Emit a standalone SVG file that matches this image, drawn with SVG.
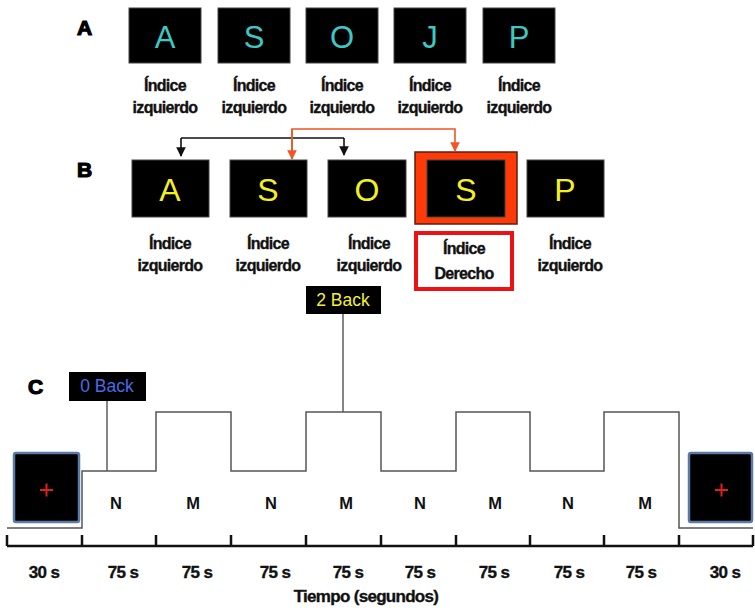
<svg xmlns="http://www.w3.org/2000/svg" width="755" height="608" viewBox="0 0 755 608">
<defs>
<style>
.panel{font-family:"Liberation Sans",Arial,sans-serif;font-weight:900;font-size:21px;fill:#000;stroke:#000;stroke-width:1.2}
.lbl{font-family:"Liberation Sans Narrow","Liberation Sans",Arial,sans-serif;font-weight:bold;font-size:16px;fill:#111;stroke:#111;stroke-width:0.35;text-anchor:middle;letter-spacing:-0.7px}
.scr{fill:#000;stroke:#444;stroke-width:1}
.la{font-family:"Liberation Sans",Arial,sans-serif;font-size:31px;fill:#3cc8c4;text-anchor:middle}
.lb{font-family:"Liberation Sans",Arial,sans-serif;font-size:32px;fill:#f4f020;text-anchor:middle}
.nm{font-family:"Liberation Sans",Arial,sans-serif;font-weight:bold;font-size:16.5px;fill:#111;text-anchor:middle}
.tm{font-family:"Liberation Sans Narrow","Liberation Sans",Arial,sans-serif;font-weight:bold;font-size:17px;fill:#111;stroke:#111;stroke-width:0.35;text-anchor:middle;letter-spacing:-0.7px}
.fix{fill:#000;stroke:#5a7aa8;stroke-width:2.5}
.plus{stroke:#e02020;stroke-width:2}
.tag{font-family:"Liberation Sans",Arial,sans-serif;font-size:17.5px}
</style>
<marker id="ak" viewBox="0 0 10 10" refX="9" refY="5" markerWidth="6" markerHeight="6" orient="auto"><path d="M0,0L10,5L0,10z" fill="#111"/></marker>
<marker id="ao" viewBox="0 0 10 10" refX="9" refY="5" markerWidth="6" markerHeight="6" orient="auto"><path d="M0,0L10,5L0,10z" fill="#f05522"/></marker>
</defs>
<rect width="755" height="608" fill="#fff"/>

<text class="panel" x="77" y="35">A</text>
<text class="panel" x="77" y="177">B</text>
<text class="panel" x="28" y="394">C</text>

<g id="rowA">
<g id="a1"><rect class="scr" x="129" y="8" width="72" height="55"/><text class="la" x="165" y="48">A</text><text class="lbl" x="165" y="91">Índice</text><text class="lbl" x="165" y="113">izquierdo</text></g>
<g id="a2"><rect class="scr" x="218" y="8" width="72" height="55"/><text class="la" x="254" y="48">S</text><text class="lbl" x="254" y="91">Índice</text><text class="lbl" x="254" y="113">izquierdo</text></g>
<g id="a3"><rect class="scr" x="306" y="8" width="72" height="55"/><text class="la" x="342" y="48">O</text><text class="lbl" x="342" y="91">Índice</text><text class="lbl" x="342" y="113">izquierdo</text></g>
<g id="a4"><rect class="scr" x="394" y="8" width="72" height="55"/><text class="la" x="430" y="48">J</text><text class="lbl" x="430" y="91">Índice</text><text class="lbl" x="430" y="113">izquierdo</text></g>
<g id="a5"><rect class="scr" x="483" y="8" width="72" height="55"/><text class="la" x="519" y="48">P</text><text class="lbl" x="519" y="91">Índice</text><text class="lbl" x="519" y="113">izquierdo</text></g>
</g>

<g id="rowB">
<g id="b1"><rect class="scr" x="132" y="160" width="77" height="57"/><text class="lb" x="170" y="201">A</text><text class="lbl" x="170" y="249">Índice</text><text class="lbl" x="170" y="271">izquierdo</text></g>
<g id="b2"><rect class="scr" x="230" y="160" width="77" height="57"/><text class="lb" x="268" y="201">S</text><text class="lbl" x="268" y="249">Índice</text><text class="lbl" x="268" y="271">izquierdo</text></g>
<g id="b3"><rect class="scr" x="328" y="160" width="78" height="57"/><text class="lb" x="367" y="201">O</text><text class="lbl" x="369" y="249">Índice</text><text class="lbl" x="369" y="271">izquierdo</text></g>
<g id="b4"><rect x="415" y="152" width="102" height="72" fill="#ff3a08" stroke="#552211" stroke-width="1.5"/><rect class="scr" x="427" y="160" width="78" height="57"/><text class="lb" x="466" y="201">S</text>
<rect x="416" y="233" width="96" height="56" fill="#fff" stroke="#ee1111" stroke-width="4"/><text class="lbl" x="464" y="254">Índice</text><text class="lbl" x="464" y="279">Derecho</text></g>
<g id="b5"><rect class="scr" x="527" y="160" width="77" height="57"/><text class="lb" x="565" y="201">P</text><text class="lbl" x="570" y="249">Índice</text><text class="lbl" x="570" y="271">izquierdo</text></g>
</g>

<g id="connectors" fill="none">
<path d="M181,138H344" stroke="#111" stroke-width="1.6"/>
<path d="M181,138V156" stroke="#111" stroke-width="1.6" marker-end="url(#ak)"/>
<path d="M344,138V155" stroke="#111" stroke-width="1.6" marker-end="url(#ak)"/>
<path d="M292,158V129H455V151" stroke="#f05522" stroke-width="1.6" marker-end="url(#ao)"/>
<path d="M292,129V159" stroke="#f05522" stroke-width="1.6" marker-end="url(#ao)"/>
<path d="M107,401V471" stroke="#444" stroke-width="1.3"/>
<path d="M343,314V412" stroke="#444" stroke-width="1.3"/>
<path d="M7,528H82V471H156V412H231V471H306V412H381V471H456V412H530V471H604V412H679V528H753" stroke="#555" stroke-width="1.5"/>
<path d="M7,546H753M7,535V546M82,535V546M156,535V546M231,535V546M306,535V546M381,535V546M456,535V546M530,535V546M604,535V546M679,535V546M753,535V546" stroke="#111" stroke-width="2.5"/>
</g>

<g id="tag2"><rect x="306" y="286" width="75" height="28" fill="#000"/><text class="tag" x="343" y="306" fill="#f4f030" text-anchor="middle">2 Back</text></g>
<g id="tag0"><rect x="69" y="372" width="77" height="29" fill="#000"/><text class="tag" x="107" y="392" fill="#4a6ae8" text-anchor="middle">0 Back</text></g>

<g id="fixL"><rect class="fix" x="14" y="453" width="65" height="69" rx="2"/><path class="plus" d="M40,490H53M46.5,483.5V496.5"/></g>
<g id="fixR"><rect class="fix" x="689" y="453" width="63" height="69" rx="2"/><path class="plus" d="M715,490H728M721.5,483.5V496.5"/></g>

<g id="blocks">
<text class="nm" x="116" y="509">N</text>
<text class="nm" x="193" y="509">M</text>
<text class="nm" x="271" y="509">N</text>
<text class="nm" x="346" y="509">M</text>
<text class="nm" x="420" y="509">N</text>
<text class="nm" x="495" y="509">M</text>
<text class="nm" x="568" y="509">N</text>
<text class="nm" x="645" y="509">M</text>
</g>
<g id="times">
<text class="tm" x="44" y="578">30 s</text>
<text class="tm" x="123" y="578">75 s</text>
<text class="tm" x="197" y="578">75 s</text>
<text class="tm" x="275" y="578">75 s</text>
<text class="tm" x="348" y="578">75 s</text>
<text class="tm" x="420" y="578">75 s</text>
<text class="tm" x="494" y="578">75 s</text>
<text class="tm" x="569" y="578">75 s</text>
<text class="tm" x="641" y="578">75 s</text>
<text class="tm" x="725" y="578">30 s</text>
<text class="tm" x="366" y="602">Tiempo (segundos)</text>
</g>
</svg>
